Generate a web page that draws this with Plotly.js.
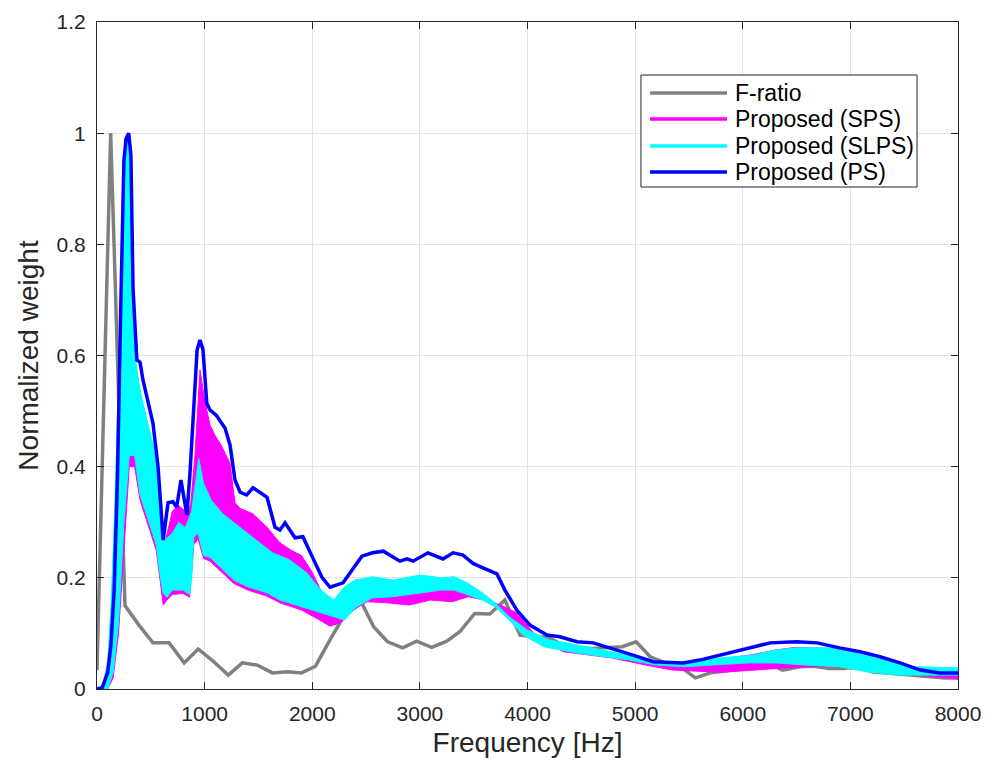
<!DOCTYPE html>
<html>
<head>
<meta charset="utf-8">
<script src="https://cdn.plot.ly/plotly-3.0.1.min.js"></script>
<style>html,body{margin:0;padding:0;background:#fff;}#chart{width:994px;height:767px;}</style>
</head>
<body>
<div id="chart"></div>
<script>
// ---- F-ratio (gray) ----
const fratioF = [0,127,260,390,520,670,810,940,1080,1220,1350,1490,1630,1770,1900,2030,2170,2300,2460,2570,2700,2840,2970,3110,3250,3370,3510,3650,3790,3930,4060,4190,4330,4470,4610,4750,4880,5010,5140,5280,5420,5560,5700,5850,5990,6130,6270,6370,6530,6660,6800,6930,7070,7200,7340,7470,7610,7740,7880,8000];
const fratioW = [0.034,1.0,0.15,0.115,0.083,0.083,0.047,0.072,0.05,0.025,0.047,0.043,0.029,0.031,0.029,0.041,0.09,0.133,0.155,0.112,0.085,0.074,0.086,0.075,0.086,0.103,0.136,0.135,0.16,0.097,0.094,0.093,0.079,0.074,0.073,0.074,0.076,0.085,0.058,0.047,0.040,0.020,0.029,0.033,0.036,0.043,0.043,0.034,0.040,0.041,0.037,0.037,0.039,0.031,0.029,0.027,0.024,0.022,0.020,0.020];

// ---- Proposed (PS) (blue) ----
const psF = [0,50,100,130,160,190,220,250,270,295,315,335,370,400,427,475,520,567,615,660,706,740,780,835,864,930,957,985,1020,1050,1110,1190,1236,1282,1330,1390,1450,1580,1654,1700,1747,1840,1913,2007,2090,2165,2230,2286,2370,2462,2560,2660,2815,2880,2936,3000,3075,3215,3308,3400,3494,3586,3716,3790,3900,4023,4180,4300,4460,4610,4766,4980,5166,5445,5600,5790,5975,6095,6255,6500,6690,6900,7090,7275,7460,7650,7830,8000];
const psW = [0,0.003,0.03,0.08,0.18,0.38,0.68,0.95,0.99,1.0,0.96,0.72,0.592,0.588,0.556,0.514,0.478,0.40,0.268,0.335,0.337,0.327,0.376,0.313,0.389,0.61,0.628,0.61,0.514,0.502,0.492,0.469,0.439,0.376,0.354,0.349,0.362,0.345,0.291,0.286,0.299,0.272,0.274,0.235,0.201,0.183,0.187,0.191,0.214,0.239,0.245,0.248,0.23,0.234,0.23,0.237,0.245,0.234,0.245,0.241,0.226,0.218,0.207,0.178,0.142,0.115,0.097,0.094,0.085,0.083,0.074,0.061,0.049,0.047,0.052,0.061,0.07,0.077,0.083,0.085,0.083,0.074,0.067,0.058,0.047,0.034,0.029,0.029];

// ---- Proposed (SPS) (magenta) band: upper and lower envelopes ----
const spsUpF = [0,50,100,130,160,200,230,260,285,310,340,380,420,470,520,570,600,640,700,760,820,870,910,957,1000,1050,1100,1150,1236,1282,1330,1450,1580,1700,1800,1900,2000,2090,2165,2300,2450,2600,2800,3000,3200,3400,3550,3700,3830,4000,4200,4400,4700,5000,5250,5500,5800,6100,6300,6500,6800,7000,7300,7600,8000];
const spsUpW = [0,0.004,0.04,0.12,0.25,0.5,0.75,0.93,0.97,0.85,0.6,0.56,0.5,0.46,0.42,0.36,0.28,0.27,0.32,0.33,0.32,0.33,0.42,0.574,0.52,0.475,0.455,0.44,0.406,0.335,0.325,0.315,0.291,0.263,0.25,0.24,0.21,0.173,0.148,0.17,0.19,0.2,0.19,0.19,0.19,0.185,0.17,0.15,0.125,0.1,0.085,0.078,0.066,0.054,0.046,0.045,0.054,0.062,0.07,0.075,0.073,0.066,0.05,0.036,0.028];
const spsLoF = [0,100,150,200,250,300,350,400,450,500,550,590,615,650,700,800,860,900,940,990,1050,1150,1270,1400,1580,1700,1900,2070,2165,2260,2380,2510,2700,2900,3100,3300,3450,3600,3750,3900,4060,4330,4780,5100,5350,5800,6100,6400,6700,7000,7300,7600,8000];
const spsLoW = [0,0,0.02,0.1,0.25,0.4,0.4,0.34,0.31,0.28,0.25,0.19,0.151,0.16,0.17,0.172,0.165,0.26,0.27,0.235,0.23,0.212,0.19,0.178,0.167,0.155,0.142,0.124,0.113,0.119,0.142,0.157,0.155,0.151,0.16,0.157,0.166,0.16,0.151,0.137,0.1,0.067,0.056,0.043,0.034,0.03,0.034,0.038,0.041,0.04,0.035,0.025,0.018];

// ---- Proposed (SLPS) (cyan) band: upper and lower envelopes ----
const slpsUpF = [0,50,100,130,160,200,230,260,285,310,340,380,420,470,520,570,600,640,700,760,820,880,920,945,990,1060,1170,1300,1450,1630,1790,1950,2050,2100,2200,2300,2400,2560,2750,3000,3200,3320,3450,3580,3700,3830,4000,4200,4360,4700,5000,5250,5500,5800,6100,6300,6500,6800,7000,7300,7600,8000];
const slpsUpW = [0,0.005,0.05,0.15,0.3,0.55,0.8,0.97,1.0,0.9,0.62,0.56,0.52,0.48,0.44,0.38,0.28,0.27,0.28,0.3,0.29,0.32,0.38,0.415,0.37,0.34,0.315,0.295,0.273,0.245,0.232,0.209,0.185,0.175,0.16,0.184,0.196,0.202,0.196,0.205,0.2,0.202,0.19,0.173,0.155,0.13,0.106,0.088,0.083,0.07,0.058,0.049,0.047,0.056,0.061,0.07,0.074,0.074,0.067,0.052,0.04,0.038];
const slpsLoF = [0,100,150,200,250,300,350,400,450,500,550,590,615,650,700,800,860,880,900,940,990,1050,1150,1270,1400,1580,1700,1900,2100,2200,2300,2400,2560,2750,3000,3200,3320,3450,3580,3700,3830,3960,4150,4450,4950,5200,5450,5750,6050,6300,6600,6900,7150,7450,8000];
const slpsLoW = [0,0,0.03,0.12,0.3,0.42,0.42,0.35,0.32,0.29,0.26,0.2,0.172,0.165,0.178,0.178,0.17,0.2,0.273,0.28,0.24,0.237,0.219,0.196,0.184,0.173,0.16,0.148,0.137,0.13,0.124,0.146,0.164,0.166,0.173,0.178,0.178,0.169,0.16,0.148,0.124,0.097,0.076,0.065,0.052,0.043,0.04,0.043,0.047,0.047,0.043,0.04,0.031,0.025,0.025];

const seriesNames = ['F-ratio','Proposed (SPS)','Proposed (SLPS)','Proposed (PS)'];
const seriesColors = ['#808080','#ff00ff','#00ffff','#0000ff'];

const xTickVals = [0,1000,2000,3000,4000,5000,6000,7000,8000];
const xTickText = ['0','1000','2000','3000','4000','5000','6000','7000','8000'];
const yTickVals = [0,0.2,0.4,0.6,0.8,1,1.2];
const yTickText = ['0','0.2','0.4','0.6','0.8','1','1.2'];

const FONT = 'Liberation Sans, Arial, Helvetica, sans-serif';

function band(upF, upW, loF, loW, color, name){
  return {
    name: name,
    x: upF.concat(loF.slice().reverse()),
    y: upW.concat(loW.slice().reverse()),
    type:'scatter', mode:'lines', fill:'toself', fillcolor: color,
    line:{color: color, width:1}, showlegend:false, hoverinfo:'skip'
  };
}

const traces = [
  {name: seriesNames[0], x: fratioF, y: fratioW, type:'scatter', mode:'lines', line:{color:seriesColors[0], width:3.5}, showlegend:false},
  band(spsUpF, spsUpW, spsLoF, spsLoW, seriesColors[1], seriesNames[1]),
  band(slpsUpF, slpsUpW, slpsLoF, slpsLoW, seriesColors[2], seriesNames[2]),
  {name: seriesNames[3], x: psF, y: psW, type:'scatter', mode:'lines', line:{color:seriesColors[3], width:3.5}, showlegend:false}
];

// ---- legend box (MATLAB style), built from the series names/colours ----
const legBox = {x0:0.6318, x1:0.9524, y0:0.7526, y1:0.9205};
const legRowY = [0.8936, 0.8546, 0.8141, 0.7751];
const legLineX = [0.6423, 0.7317];
const legTextX = 0.7387;
const shapes = [{type:'rect', xref:'paper', yref:'paper', x0:legBox.x0, x1:legBox.x1, y0:legBox.y0, y1:legBox.y1,
  line:{color:'#262626', width:1}, fillcolor:'#ffffff', layer:'above'}];
const annotations = [];
seriesNames.forEach((n,i)=>{
  shapes.push({type:'line', xref:'paper', yref:'paper', x0:legLineX[0], x1:legLineX[1], y0:legRowY[i], y1:legRowY[i],
    line:{color:seriesColors[i], width:3.5}, layer:'above'});
  annotations.push({xref:'paper', yref:'paper', x:legTextX, y:legRowY[i], xanchor:'left', yanchor:'middle',
    text:n, showarrow:false, font:{family:FONT, size:23, color:'#000000'}});
});

const axisCommon = {
  showline:true, linecolor:'#262626', linewidth:1, mirror:'ticks',
  ticks:'inside', ticklen:7, tickcolor:'#262626', tickwidth:1,
  showgrid:true, gridcolor:'#e3e3e3', gridwidth:1, zeroline:false,
  tickfont:{family:FONT, size:21, color:'#262626'}
};

const layout = {
  width:994, height:767,
  margin:{l:97, r:36, t:22, b:78},
  paper_bgcolor:'#ffffff', plot_bgcolor:'#ffffff',
  font:{family:FONT, color:'#262626'},
  xaxis: Object.assign({}, axisCommon, {
    range:[0,8000], tickmode:'array', tickvals:xTickVals, ticktext:xTickText,
    ticklabelstandoff:6,
    title:{text:'Frequency [Hz]', font:{family:FONT, size:28, color:'#262626'}, standoff:8}
  }),
  yaxis: Object.assign({}, axisCommon, {
    range:[0,1.2], tickmode:'array', tickvals:yTickVals, ticktext:yTickText,
    ticklabelstandoff:6,
    title:{text:'Normalized weight', font:{family:FONT, size:28, color:'#262626'}, standoff:9}
  }),
  shapes: shapes,
  annotations: annotations,
  showlegend:false
};

Plotly.newPlot('chart', traces, layout, {staticPlot:true, displayModeBar:false});
</script>
</body>
</html>
